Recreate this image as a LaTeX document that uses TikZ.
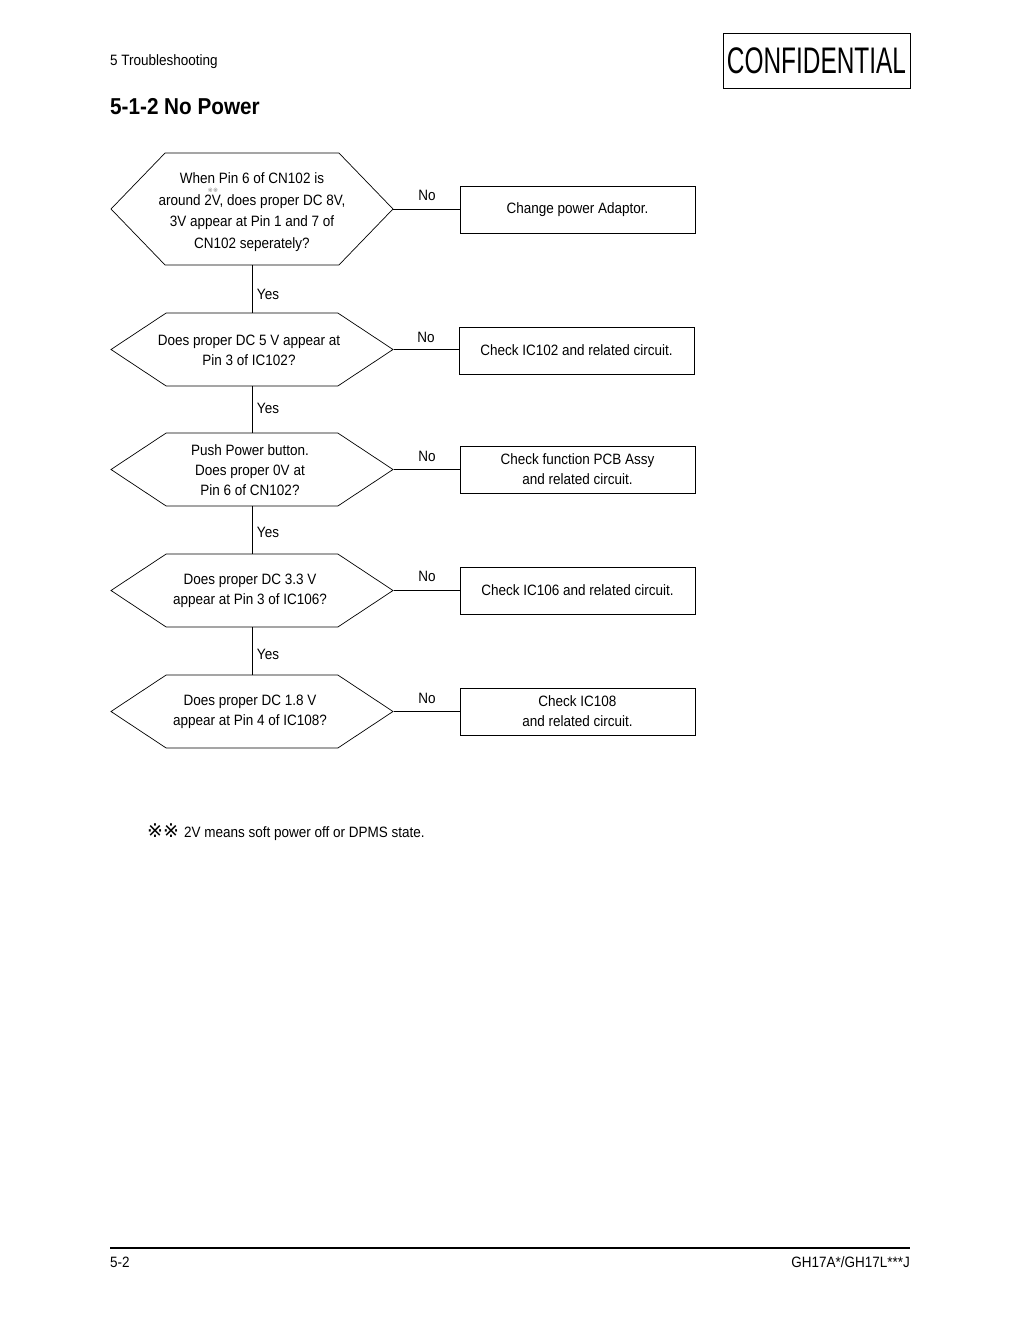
\documentclass[tikz,border=0pt]{standalone}
\usepackage{fontspec}
\setmainfont{Liberation Sans}[FakeStretch=0.9]
\newfontfamily\confont{Liberation Sans}[FakeStretch=0.66]
\newfontfamily\markfont{DejaVu Sans}
\usetikzlibrary{shapes.symbols}

\tikzset{
  quest/.style={signal, signal to=west and east, draw, line width=0.7pt,
    minimum width=282pt, inner sep=0pt},
  questtext/.style={inner sep=0pt, align=center,
    font=\fontsize{15}{20}\selectfont},
  act/.style={draw, line width=0.7pt, minimum width=235pt, minimum height=47pt,
    inner sep=0pt, align=center, font=\fontsize{15}{20}\selectfont},
  lbl/.style={inner sep=0pt, font=\fontsize{15}{18}\selectfont},
  link/.style={line width=0.7pt},
}

\begin{document}
\begin{tikzpicture}[x=1pt,y=-1pt]

    \useasboundingbox (0,0) rectangle (1020,1322);

    % header
    \node[lbl, anchor=base west] (chap) at (110,65.5) {5 Troubleshooting};
    \node[inner sep=0pt, anchor=base west, font=\fontsize{23}{23}\selectfont\bfseries] (title) at (110,114) {5-1-2 No Power};
    \node[draw, line width=0.8pt, minimum width=187pt, minimum height=55pt, inner sep=0pt,
      font=\confont\fontsize{37}{37}\selectfont] (conf) at (816.5,60.5) {CONFIDENTIAL};

    % questions
    \node[quest, minimum height=112pt, signal pointer angle=92] (q1) at (252,209) {};
    \node[questtext, font=\fontsize{15}{21.5}\selectfont] (q1t) at (252,212)
      {When Pin 6 of CN102 is\\around 2V, does proper DC 8V,\\3V appear at Pin 1 and 7 of\\CN102 seperately?};
    \node[inner sep=0pt, text=gray, font=\markfont\fontsize{6}{6}\selectfont] (q1mark) at (213,190) {※※};

    \node[quest, minimum height=73pt, signal pointer angle=67] (q2) at (252,349.5) {};
    \node[questtext] (q2t) at (249,350.5) {Does proper DC 5 V appear at\\Pin 3 of IC102?};

    \node[quest, minimum height=73pt, signal pointer angle=67] (q3) at (252,469.5) {};
    \node[questtext] (q3t) at (250,470) {Push Power button.\\Does proper 0V at\\Pin 6 of CN102?};

    \node[quest, minimum height=73pt, signal pointer angle=67] (q4) at (252,590.5) {};
    \node[questtext] (q4t) at (250,591) {Does proper DC 3.3 V\\appear at Pin 3 of IC106?};

    \node[quest, minimum height=73pt, signal pointer angle=67] (q5) at (252,711.5) {};
    \node[questtext] (q5t) at (250,712) {Does proper DC 1.8 V\\appear at Pin 4 of IC108?};

    % actions
    \node[act] (a1) at (577.5,209.5) {Change power Adaptor.};
    \node[act] (a2) at (576.5,350.5) {Check IC102 and related circuit.};
    \node[act] (a3) at (577.5,469.5) {Check function PCB Assy\\and related circuit.};
    \node[act] (a4) at (577.5,590.5) {Check IC106 and related circuit.};
    \node[act] (a5) at (577.5,711.5) {Check IC108\\and related circuit.};

    % No branches
    \draw[link] (q1.east) -- (a1.west |- q1.east);
    \draw[link] (q2.east) -- (a2.west |- q2.east);
    \draw[link] (q3.east) -- (a3.west |- q3.east);
    \draw[link] (q4.east) -- (a4.west |- q4.east);
    \draw[link] (q5.east) -- (a5.west |- q5.east);
    \node[lbl] (no1) at (427,195) {No};
    \node[lbl] (no2) at (426,337) {No};
    \node[lbl] (no3) at (427,456) {No};
    \node[lbl] (no4) at (427,576) {No};
    \node[lbl] (no5) at (427,698) {No};

    % Yes branches
    \draw[link] (q1.south) -- (q2.north);
    \draw[link] (q2.south) -- (q3.north);
    \draw[link] (q3.south) -- (q4.north);
    \draw[link] (q4.south) -- (q5.north);
    \node[lbl] (yes1) at (268,294) {Yes};
    \node[lbl] (yes2) at (268,408) {Yes};
    \node[lbl] (yes3) at (268,532) {Yes};
    \node[lbl] (yes4) at (268,654) {Yes};

    % note
    \node[lbl, anchor=base west] (note) at (147,837)
      {{\markfont\fontsize{19}{18}\selectfont ※※}\hspace{5pt}2V means soft power off or DPMS state.};

    % footer
    \draw[line width=1.5pt] (110,1248) -- (910,1248);
    \node[lbl, anchor=base west] (page) at (110,1267) {5-2};
    \node[lbl, anchor=base east] (model) at (910,1267) {GH17A*/GH17L***J};

\end{tikzpicture}
\end{document}
